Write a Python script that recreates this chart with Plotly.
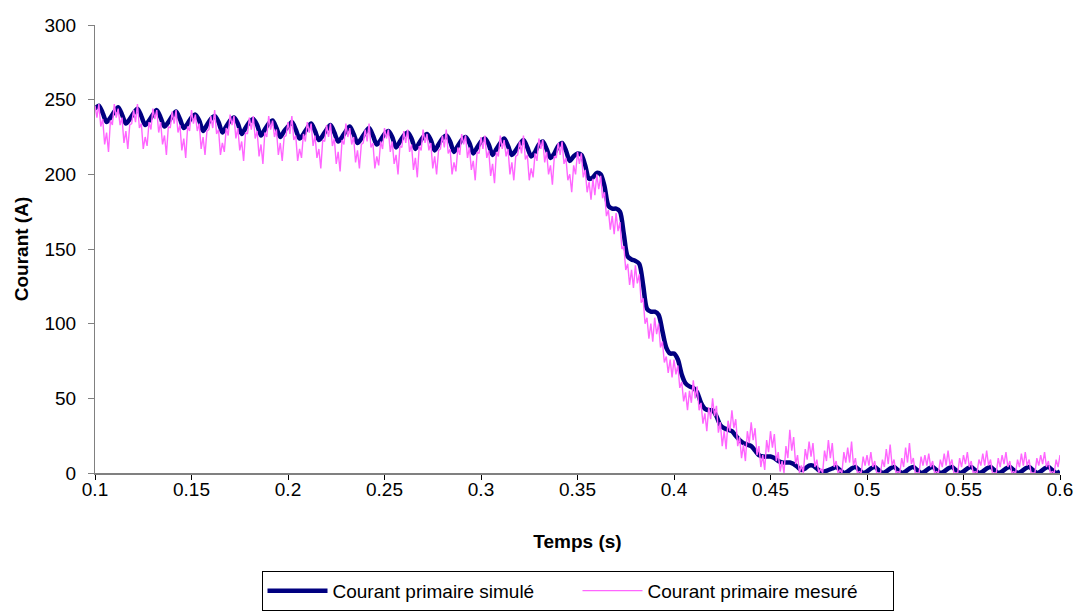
import plotly.graph_objects as go

# Sampling grid (s)
t_start = 0.1
dt_sim = 0.002
dt_mes = 0.001

# Courant primaire simulé (A), one row per 10 ms period, 2 ms steps
sim_current = [
    244, 246, 241, 235, 238,
    242, 245, 240, 234, 237,
    241, 244, 239, 233, 236,
    240, 243, 238, 232, 235,
    239, 242, 237, 231, 234,
    238, 240, 236, 229, 233,
    237, 239, 235, 228, 232,
    236, 238, 234, 227, 231,
    235, 237, 233, 226, 230,
    234, 236, 231, 225, 229,
    232, 235, 230, 224, 227,
    231, 234, 229, 223, 226,
    230, 233, 228, 222, 225,
    229, 232, 227, 221, 224,
    228, 231, 226, 220, 223,
    227, 229, 225, 218, 222,
    226, 228, 224, 217, 221,
    225, 227, 223, 216, 220,
    224, 226, 222, 215, 219,
    223, 225, 221, 214, 218,
    222, 224, 220, 213, 217,
    221, 224, 219, 213, 216,
    220, 223, 218, 212, 215,
    220, 222, 217, 211, 214,
    219, 221, 216, 209, 212,
    214, 213, 206, 197, 198,
    201, 200, 192, 179, 177,
    177, 175, 160, 145, 143,
    142, 140, 126, 110, 108,
    108, 106, 95, 84, 80,
    80, 76, 66, 60, 58,
    57, 54, 47, 43, 42,
    42, 38, 32, 30, 29,
    28, 25, 22, 20, 19,
    18, 15, 12, 11, 11,
    11, 10, 8, 7, 7,
    7, 6, 4, 2, 3,
    5, 5, 3, 1, 1,
    2, 3, 4, 2, 0,
    1, 3, 4, 2, 0,
    1, 3, 4, 2, 0,
    1, 3, 4, 2, 0,
    1, 3, 4, 2, 0,
    1, 3, 4, 2, 0,
    1, 3, 4, 2, 0,
    1, 3, 4, 2, 0,
    1, 3, 4, 2, 0,
    1, 3, 4, 2, 0,
    1, 3, 4, 2, 0,
    1, 3, 4, 2, 0,
    1,
]

# Courant primaire mesuré (A), one row per 10 ms period, 1 ms steps (noisy trace)
mes_current = [
    246, 238, 247, 232, 237, 220, 228, 215, 236, 233,
    247, 238, 244, 233, 238, 221, 229, 217, 233, 234,
    243, 235, 247, 231, 234, 217, 225, 219, 235, 230,
    244, 237, 243, 228, 235, 220, 226, 213, 232, 231,
    242, 234, 243, 228, 233, 216, 224, 211, 232, 229,
    243, 234, 240, 229, 234, 217, 225, 213, 229, 230,
    239, 231, 243, 227, 230, 213, 221, 215, 231, 226,
    240, 233, 239, 224, 231, 216, 222, 209, 228, 227,
    238, 230, 239, 224, 229, 212, 220, 207, 228, 225,
    239, 230, 236, 225, 230, 213, 221, 209, 225, 226,
    235, 227, 239, 223, 226, 209, 217, 211, 227, 222,
    235, 228, 234, 219, 226, 211, 217, 204, 223, 222,
    233, 225, 234, 219, 224, 207, 215, 202, 223, 220,
    234, 225, 231, 220, 225, 208, 216, 204, 220, 221,
    230, 222, 234, 218, 221, 204, 212, 206, 222, 217,
    231, 224, 230, 215, 222, 207, 213, 200, 219, 218,
    229, 221, 230, 215, 220, 203, 211, 198, 219, 216,
    230, 221, 227, 216, 221, 204, 212, 200, 216, 217,
    226, 218, 230, 214, 217, 200, 208, 202, 218, 213,
    227, 220, 226, 211, 218, 203, 209, 196, 215, 214,
    225, 217, 226, 211, 216, 199, 207, 194, 215, 212,
    226, 217, 223, 212, 217, 200, 208, 196, 212, 213,
    222, 214, 226, 210, 213, 196, 204, 198, 214, 209,
    224, 217, 223, 208, 215, 200, 206, 193, 212, 211,
    221, 213, 222, 207, 211, 196, 200, 188, 206, 200,
    215, 207, 214, 198, 203, 188, 195, 183, 197, 186,
    200, 190, 199, 184, 188, 172, 176, 163, 172, 160,
    174, 162, 168, 150, 152, 136, 140, 126, 136, 124,
    139, 127, 133, 114, 117, 100, 104, 90, 100, 88,
    104, 93, 100, 84, 88, 74, 78, 67, 76, 64,
    76, 66, 72, 57, 61, 48, 54, 42, 55, 47,
    62, 50, 58, 42, 47, 33, 40, 28, 44, 36,
    50, 38, 45, 27, 34, 18, 28, 16, 35, 28,
    42, 30, 36, 18, 24, 10, 19, 8, 28, 20,
    34, 22, 30, 12, 18, 4, 12, 2, 22, 14,
    28, 17, 26, 8, 14, 1, 8, 0, 18, 10,
    29, 15, 24, 6, 12, 0, 5, 0, 16, 9,
    21, 11, 20, 4, 9, 0, 3, 0, 15, 8,
    22, 10, 20, 4, 8, 0, 2, 0, 14, 7,
    17, 7, 21, 5, 10, 0, 1, 0, 11, 5,
    12, 5, 14, 4, 8, 0, 0, 0, 9, 4,
    16, 6, 19, 5, 9, 0, 1, 0, 10, 4,
    17, 7, 20, 6, 10, 0, 0, 0, 11, 5,
    12, 5, 13, 4, 8, 0, 1, 0, 9, 4,
    13, 5, 15, 5, 9, 0, 0, 0, 10, 4,
    12, 6, 14, 4, 8, 0, 1, 0, 9, 5,
    13, 5, 15, 5, 9, 0, 0, 0, 10, 4,
    12, 6, 14, 4, 8, 0, 1, 0, 9, 4,
    13, 5, 14, 5, 9, 0, 0, 0, 10, 5,
    12, 6, 14, 4, 8, 0, 1, 0, 9, 4,
    12,
]

x_ticks = [0.1, 0.15, 0.2, 0.25, 0.3, 0.35, 0.4, 0.45, 0.5, 0.55, 0.6]
x_tick_labels = ["0.1", "0.15", "0.2", "0.25", "0.3", "0.35", "0.4", "0.45", "0.5", "0.55", "0.6"]
y_ticks = [0, 50, 100, 150, 200, 250, 300]

t_sim = [round(t_start + dt_sim * i, 4) for i in range(len(sim_current))]
t_mes = [round(t_start + dt_mes * i, 4) for i in range(len(mes_current))]

FONT = "Arial, Liberation Sans, sans-serif"
FS = 19

fig = go.Figure()
fig.add_trace(go.Scatter(
    x=t_sim, y=sim_current, mode="lines", name="Courant primaire simulé",
    line=dict(color="#000080", width=4.5, shape="spline", smoothing=0.8),
))
fig.add_trace(go.Scatter(
    x=t_mes, y=mes_current, mode="lines", name="Courant primaire mesuré",
    line=dict(color="#FF66FF", width=1.4),
))

fig.update_layout(
    width=1078, height=612,
    margin=dict(l=95, r=18, t=25, b=139),
    paper_bgcolor="white", plot_bgcolor="white",
    font=dict(family=FONT, size=FS, color="black"),
    showlegend=True,
    legend=dict(
        orientation="h", x=0.5, xanchor="center",
        yref="container", y=0.002, yanchor="bottom",
        bordercolor="black", borderwidth=1, bgcolor="white",
        font=dict(family=FONT, size=FS, color="black"),
        entrywidth=240, entrywidthmode="pixels",
        itemwidth=60, tracegroupgap=0,
    ),
)
fig.update_xaxes(
    range=[0.1, 0.6], tickvals=x_ticks, ticktext=x_tick_labels,
    showgrid=False, zeroline=False, automargin=False,
    showline=True, linecolor="#808080", linewidth=2,
    ticks="outside", ticklen=5, tickcolor="#000000", tickwidth=1,
    ticklabelstandoff=-7, ticklabeloverflow="allow",
    tickfont=dict(family=FONT, size=FS, color="black"),
    title=dict(text="<b>Temps (s)</b>", font=dict(family=FONT, size=FS, color="black"), standoff=36),
)
fig.update_yaxes(
    range=[0, 300], tickvals=y_ticks,
    showgrid=False, zeroline=False, automargin=False,
    showline=True, linecolor="#808080", linewidth=1,
    ticks="outside", ticklen=6, tickcolor="#808080", tickwidth=1,
    ticklabelstandoff=8, ticklabeloverflow="allow",
    tickfont=dict(family=FONT, size=FS, color="black"),
    title=dict(text="<b>Courant (A)</b>", font=dict(family=FONT, size=FS, color="black"), standoff=10),
)

# remove the default page margin so the 1078x612 figure fills the window exactly
fig.write_html(
    "out.html",
    config={"displayModeBar": False},
    post_script="document.body.style.margin='0';document.body.style.overflow='hidden';",
)
